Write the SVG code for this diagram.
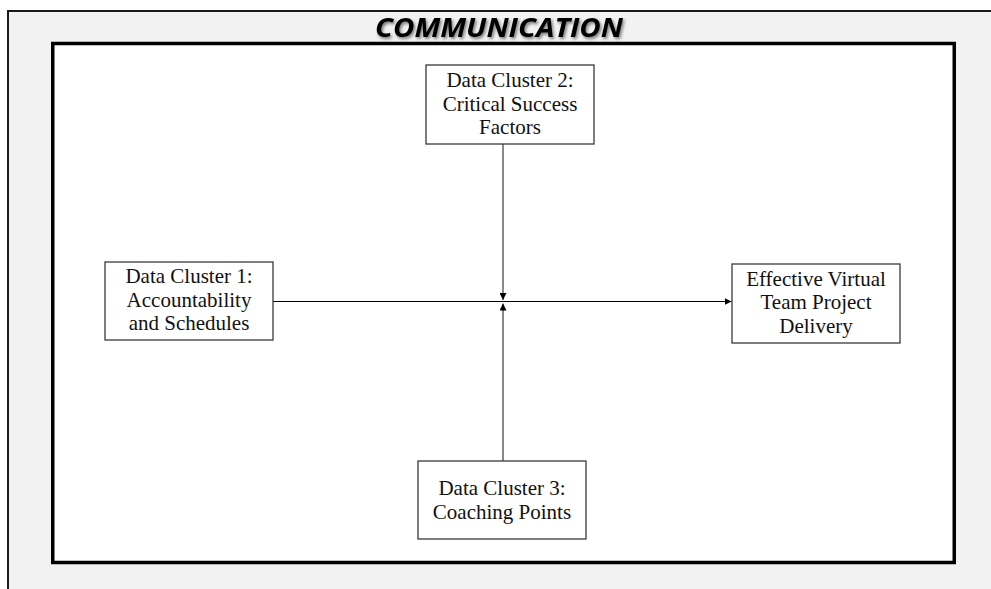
<svg xmlns="http://www.w3.org/2000/svg" width="991" height="589" viewBox="0 0 991 589">
  <defs>
    <style>
      .frame { fill: #f2f2f2; stroke: #1a1a1a; stroke-width: 2; }
      .panel { fill: #ffffff; stroke: #000000; stroke-width: 3.5; }
      .box { fill: #ffffff; stroke: #3a3a3a; stroke-width: 1.3; }
      .label { font-family: "Liberation Serif", "Times New Roman", serif; font-size: 21px; fill: #111111; text-anchor: middle; }
      .title { font-family: "Open Sans", "Liberation Sans", sans-serif; font-size: 26px; font-weight: bold; font-style: italic; fill: #000000; text-anchor: middle; }
      .wire { fill: none; stroke: #000000; stroke-width: 1.2; }
      .wire-v { fill: none; stroke: #4a4a4a; stroke-width: 1.3; }
    </style>
    <marker id="arrow" viewBox="0 0 10 10" refX="10" refY="5" markerWidth="7" markerHeight="7" markerUnits="userSpaceOnUse" orient="auto">
      <path d="M0,0 L10,5 L0,10 Z" fill="#000000"/>
    </marker>
    <filter id="shadow" x="-10%" y="-30%" width="120%" height="160%">
      <feDropShadow dx="1.5" dy="2" stdDeviation="1.4" flood-color="#000000" flood-opacity="0.5"/>
    </filter>
  </defs>

  <!-- background sheet and outer frame -->
  <rect x="0" y="0" width="991" height="589" fill="#ffffff"/>
  <rect class="frame" x="8" y="11" width="1000" height="600"/>

  <!-- heading -->
  <text class="title" x="499" y="37" textLength="248" lengthAdjust="spacingAndGlyphs" filter="url(#shadow)">COMMUNICATION</text>

  <!-- inner panel -->
  <rect class="panel" x="52.75" y="43.5" width="901.5" height="519"/>

  <!-- connectors -->
  <g id="connectors">
    <line class="wire" x1="273" y1="301.5" x2="731.5" y2="301.5" marker-end="url(#arrow)"/>
    <line class="wire-v" x1="503" y1="144" x2="503" y2="300" marker-end="url(#arrow)"/>
    <line class="wire-v" x1="503" y1="461" x2="503" y2="303.5" marker-end="url(#arrow)"/>
  </g>

  <!-- nodes -->
  <g id="cluster1">
    <rect class="box" x="105" y="262" width="168" height="78"/>
    <text class="label" x="189" y="283">Data Cluster 1:</text>
    <text class="label" x="189" y="306.5">Accountability</text>
    <text class="label" x="189" y="330">and Schedules</text>
  </g>

  <g id="cluster2">
    <rect class="box" x="426" y="65" width="168" height="79"/>
    <text class="label" x="510" y="87">Data Cluster 2:</text>
    <text class="label" x="510" y="110.5">Critical Success</text>
    <text class="label" x="510" y="134">Factors</text>
  </g>

  <g id="cluster3">
    <rect class="box" x="418" y="461" width="168" height="78"/>
    <text class="label" x="502" y="495">Data Cluster 3:</text>
    <text class="label" x="502" y="518.5">Coaching Points</text>
  </g>

  <g id="delivery">
    <rect class="box" x="732" y="264" width="168" height="79"/>
    <text class="label" x="816" y="285.5">Effective Virtual</text>
    <text class="label" x="816" y="309">Team Project</text>
    <text class="label" x="816" y="332.5">Delivery</text>
  </g>
</svg>
